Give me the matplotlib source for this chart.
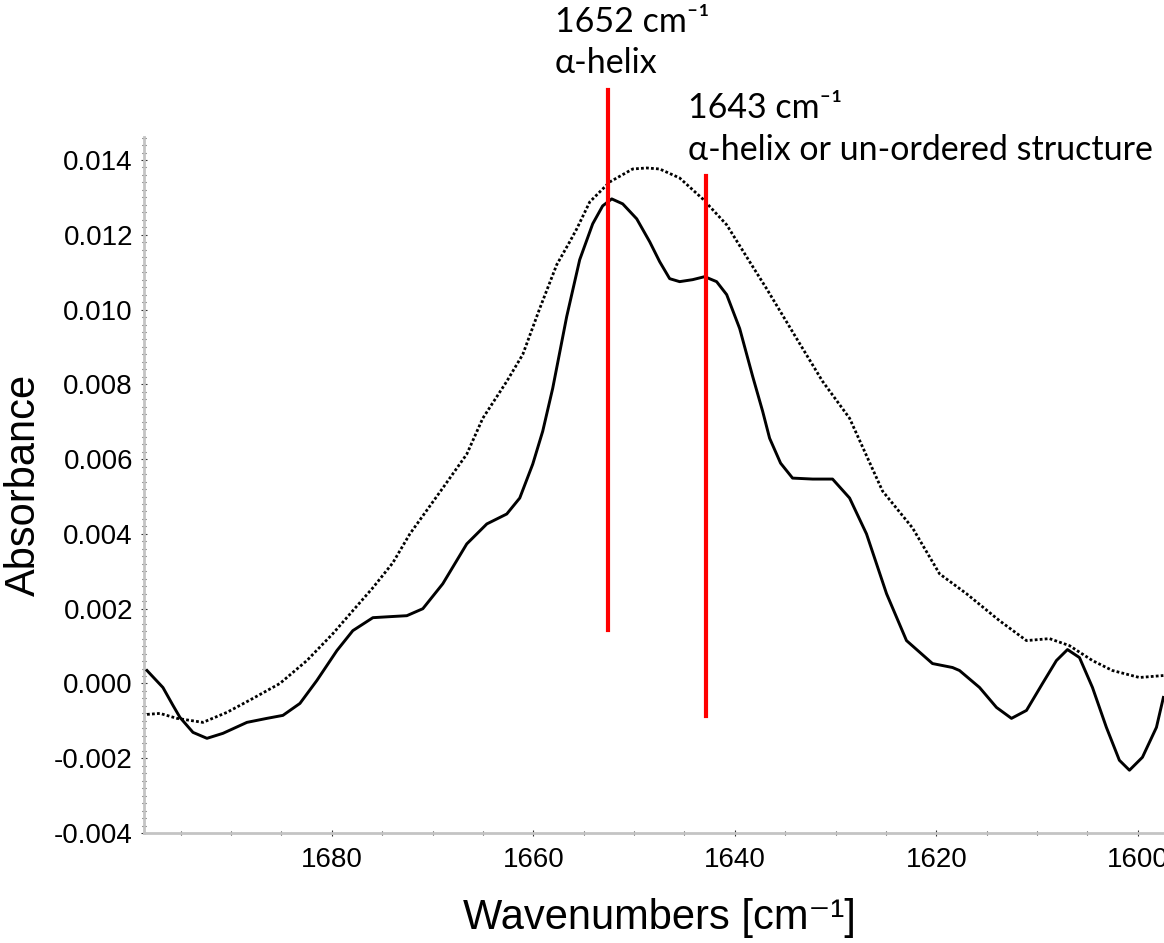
#!/usr/bin/env python3
"""
Espectro FTIR (banda amida I) com as posições de estrutura secundária
marcadas em vermelho: 1652 cm-1 (alfa-hélice) e 1643 cm-1.
"""

import matplotlib
matplotlib.use("Agg")
import matplotlib.pyplot as plt
from matplotlib.ticker import MultipleLocator, FormatStrFormatter

plt.rcParams['axes.unicode_minus'] = False

# =========================================================================
# DADOS
# =========================================================================

# curva sólida
num_onda_solida = [1698.35, 1696.77, 1695.77, 1695.08, 1693.79, 1692.40,
                   1690.81, 1688.43, 1686.45, 1684.86, 1683.17, 1681.49,
                   1679.50, 1677.92, 1675.93, 1674.25, 1672.56, 1670.97,
                   1668.99, 1666.61, 1664.62, 1662.64, 1661.35, 1660.06,
                   1659.07, 1658.08, 1656.69, 1655.40, 1654.11, 1653.12,
                   1652.22, 1651.13, 1649.74, 1648.45, 1647.46, 1646.47,
                   1645.48, 1644.19, 1643.00, 1641.81, 1640.81, 1639.52,
                   1638.23, 1637.24, 1636.55, 1635.46, 1634.27, 1632.28,
                   1630.30, 1628.61, 1626.93, 1624.94, 1622.96, 1620.38,
                   1618.39, 1617.70, 1615.71, 1614.03, 1612.54, 1611.05,
                   1609.46, 1608.08, 1606.98, 1605.79, 1604.50, 1603.12,
                   1601.83, 1600.83, 1599.54, 1598.15, 1597.46]
absorb_solida = [0.000347, -0.000107, -0.000587, -0.000907, -0.001307, -0.001467,
                 -0.001333, -0.001040, -0.000933, -0.000853, -0.000533, 0.000080,
                 0.000880, 0.001413, 0.001760, 0.001787, 0.001813, 0.002000,
                 0.002667, 0.003733, 0.004267, 0.004533, 0.004960, 0.005867,
                 0.006747, 0.007893, 0.009813, 0.011333, 0.012293, 0.012773,
                 0.012960, 0.012827, 0.012427, 0.011813, 0.011280, 0.010827,
                 0.010747, 0.010800, 0.010880, 0.010747, 0.010400, 0.009493,
                 0.008213, 0.007280, 0.006560, 0.005893, 0.005493, 0.005467,
                 0.005467, 0.004960, 0.004000, 0.002400, 0.001147, 0.000533,
                 0.000427, 0.000347, -0.000107, -0.000640, -0.000933, -0.000720,
                 0.000000, 0.000613, 0.000907, 0.000693, -0.000107, -0.001173,
                 -0.002053, -0.002320, -0.001973, -0.001173, -0.000373]

# curva pontilhada
num_onda_pontilhada = [1698.35, 1697.06, 1695.38, 1692.80, 1690.42, 1687.84,
                       1685.16, 1682.48, 1679.90, 1677.92, 1675.93, 1673.95,
                       1672.26, 1668.99, 1666.61, 1665.02, 1662.64, 1661.05,
                       1659.37, 1657.68, 1656.39, 1655.69, 1654.40, 1652.42,
                       1650.14, 1648.75, 1647.46, 1645.48, 1643.19, 1640.81,
                       1638.53, 1636.85, 1633.87, 1631.29, 1628.61, 1625.34,
                       1622.36, 1619.68, 1617.00, 1613.73, 1611.05, 1608.77,
                       1606.79, 1604.50, 1602.52, 1599.84, 1597.46]
absorb_pontilhada = [-0.000827, -0.000800, -0.000933, -0.001040, -0.000773, -0.000400,
                     0.000000, 0.000613, 0.001333, 0.001947, 0.002560, 0.003227,
                     0.004000, 0.005227, 0.006133, 0.007093, 0.008080, 0.008800,
                     0.010027, 0.011200, 0.011813, 0.012160, 0.012880, 0.013413,
                     0.013760, 0.013787, 0.013760, 0.013520, 0.012960, 0.012267,
                     0.011280, 0.010560, 0.009227, 0.008080, 0.007093, 0.005147,
                     0.004160, 0.002933, 0.002400, 0.001680, 0.001147, 0.001200,
                     0.001013, 0.000613, 0.000347, 0.000160, 0.000213]

# marcadores vermelhos (posição, topo, base)
marcas_x = [1652.6, 1642.9]
marcas_topo = [0.01587, 0.01357]
marcas_base = [0.00142, -0.00088]

rotulos = [("1652 cm⁻¹", "α-helix"),
           ("1643 cm⁻¹", "α-helix or un-ordered structure")]

# =========================================================================
# FIGURA
# =========================================================================

fig = plt.figure(figsize=(11.64, 9.43), dpi=100)
ax = fig.add_axes([0.1237, 0.1166, 0.8763, 0.7381])

ax.plot(num_onda_solida, absorb_solida, color='black', lw=2.1,
        solid_joinstyle='round', zorder=3)
ax.plot(num_onda_pontilhada, absorb_pontilhada, color='black', lw=2.0,
        linestyle=(0, (1, 0.8)), zorder=3)

for x, y0, y1 in zip(marcas_x, marcas_base, marcas_topo):
    ax.plot([x, x], [y0, y1], color='#ff0000', lw=3, clip_on=False, zorder=4)

ax.set_xlim(1698.65, 1597.4)
ax.set_ylim(-0.004, 0.014615)

# eixos no estilo do software do espectrômetro
for lado in ['top', 'right']:
    ax.spines[lado].set_visible(False)
for lado in ['left', 'bottom']:
    ax.spines[lado].set_color('#c4c4c4')
    ax.spines[lado].set_linewidth(2)

ax.xaxis.set_major_locator(MultipleLocator(20))
ax.xaxis.set_minor_locator(MultipleLocator(5))
ax.yaxis.set_major_locator(MultipleLocator(0.002))
ax.yaxis.set_minor_locator(MultipleLocator(0.0002))
ax.yaxis.set_major_formatter(FormatStrFormatter('%.3f'))
ax.xaxis.set_major_formatter(FormatStrFormatter('%d'))

ax.tick_params(which='both', direction='inout', color='#333333', width=0.8)
ax.tick_params(which='major', length=4)
ax.tick_params(which='minor', length=2.5)
ax.tick_params(axis='y', pad=6)
ax.tick_params(axis='x', pad=8)
for lbl in ax.get_xticklabels() + ax.get_yticklabels():
    lbl.set_fontfamily(['Liberation Sans', 'DejaVu Sans'])
    lbl.set_fontsize(20)

ax.set_xlabel("Wavenumbers [cm⁻¹]", fontsize=30,
              family=['Liberation Sans', 'DejaVu Sans'])
ax.set_ylabel("Absorbance", fontsize=30,
              family=['Liberation Sans', 'DejaVu Sans'])
ax.xaxis.set_label_coords(0.505, -0.093)
ax.yaxis.set_label_coords(-0.098, 0.5)

# anotações acima do gráfico
fonte_anot = dict(fontsize=24.5, family=['Lato', 'DejaVu Sans'], ha='left',
                  va='center')
fig.text(555 / 1164, 1 - 22 / 943, rotulos[0][0], **fonte_anot)
fig.text(555 / 1164, 1 - 63 / 943, rotulos[0][1], **fonte_anot)
fig.text(688 / 1164, 1 - 108 / 943, rotulos[1][0], **fonte_anot)
fig.text(688 / 1164, 1 - 150 / 943, rotulos[1][1], **fonte_anot)

fig.savefig("out.png", dpi=100)
